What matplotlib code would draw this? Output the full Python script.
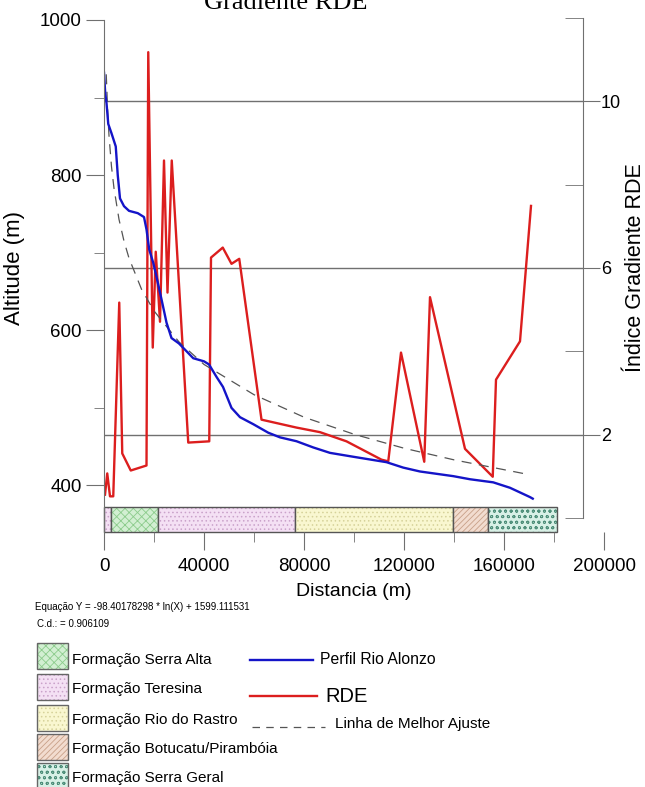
import matplotlib
matplotlib.use('Agg')
import matplotlib.pyplot as plt
from matplotlib.patches import Rectangle
from matplotlib.ticker import MultipleLocator

plt.rcParams['font.family'] = ['Liberation Sans', 'DejaVu Sans']
plt.rcParams['hatch.linewidth'] = 0.6

# perfil do rio (distancia m, altitude m)
perfil_x = [0, 500, 1000, 1700, 3000, 4700, 5500, 6400, 8000, 10000, 13500, 16000,
            17000, 18100, 19700, 21000, 23000, 25000, 27000, 30000, 32400, 35700,
            40000, 42000, 45000, 47600, 51000, 54400, 59700, 65700, 70400, 77000,
            83700, 90400, 99700, 113000, 119700, 126400, 139700, 146400, 155700,
            162400, 166400, 170400, 171500]
perfil_y = [932, 905, 893, 866, 854, 837, 800, 770, 760, 754, 751, 746,
            730, 704, 687, 669, 640, 610, 590, 583, 575, 564,
            560, 556, 540, 527, 500, 488, 479, 468, 462, 457,
            449, 442, 437, 430, 423, 418, 412, 408, 404,
            397, 391, 385, 383]

# indice RDE
rde_x = [400, 1300, 2400, 3700, 6100, 7300, 10700, 17000, 17700, 19500, 20700,
         22400, 24000, 25400, 27100, 33700, 42100, 42800, 47500, 51000, 54100,
         63000, 77000, 86400, 97000, 111000, 113700, 118800, 128100, 130400,
         144400, 155500, 156800, 166400, 170800]
rde_y = [0.56, 1.07, 0.52, 0.52, 5.17, 1.55, 1.14, 1.26, 11.18, 4.09, 6.39,
         4.71, 8.58, 5.41, 8.58, 1.81, 1.84, 6.25, 6.49, 6.10, 6.22,
         2.36, 2.17, 2.06, 1.84, 1.40, 1.36, 3.97, 1.35, 5.30,
         1.66, 0.99, 3.32, 4.24, 7.49]

# linha de melhor ajuste
ajuste_x = [900, 1500, 2000, 3000, 4000, 6000, 8000, 10000, 15000, 20000, 30000,
            40000, 60000, 80000, 100000, 120000, 140000, 170000]
ajuste_y = [930, 880, 851, 811, 783, 743, 715, 693, 653, 625, 585,
            556, 517, 488, 466, 448, 433, 414]

# formacoes ao longo do perfil
form_nomes = ['Formação Teresina', 'Formação Serra Alta', 'Formação Teresina',
              'Formação Rio do Rastro', 'Formação Botucatu/Pirambóia',
              'Formação Serra Geral']
form_ini = [0, 2800, 21500, 76400, 139700, 153700]
form_fim = [2800, 21500, 76400, 139700, 153700, 181000]

estilos = {
    'Formação Serra Alta': ('#d2efd2', '#8ccc8c', 'xxxx'),
    'Formação Teresina': ('#f4e0f4', '#caa2ca', '....'),
    'Formação Rio do Rastro': ('#f9f7d0', '#d6d29a', '....'),
    'Formação Botucatu/Pirambóia': ('#f2dccf', '#c8a088', '//////'),
    'Formação Serra Geral': ('#d8f0e6', '#4f8f7a', 'ooo'),
}
legenda_form = ['Formação Serra Alta', 'Formação Teresina', 'Formação Rio do Rastro',
                'Formação Botucatu/Pirambóia', 'Formação Serra Geral']

W, H = 645, 787
fig = plt.figure(figsize=(6.45, 7.87), dpi=100)
cinza = '#707070'
azul = '#1414c8'
verm = '#dc1e1e'

# eixo RDE (direita)
ax2 = fig.add_axes([104 / W, (H - 518) / H, 479 / W, 500 / H])
ax2.set_xlim(0, 191600)
ax2.set_ylim(0, 12)
for s in ['top', 'left', 'bottom']:
    ax2.spines[s].set_visible(False)
ax2.spines['right'].set_color(cinza)
ax2.xaxis.set_visible(False)
ax2.yaxis.tick_right()
ax2.yaxis.set_label_position('right')
ax2.set_yticks([2, 6, 10])
ax2.yaxis.set_minor_locator(MultipleLocator(4))
ax2.tick_params(axis='y', which='major', direction='out', length=12, color=cinza,
                labelsize=13, pad=1)
ax2.tick_params(axis='y', which='minor', direction='in', length=13, color=cinza)
ax2.yaxis.grid(True, which='major', color=cinza, linewidth=1)
ax2.plot(rde_x, rde_y, color=verm, linewidth=1.7)
ax2.set_ylabel('Índice Gradiente RDE', fontsize=15.5)
ax2.yaxis.set_label_coords((625 - 104) / 479, 0.5)

# eixo principal (altitude)
ax = fig.add_axes([104 / W, (H - 532) / H, 500 / W, 512 / H])
ax.set_zorder(2)
ax.patch.set_visible(False)
ax.set_xlim(0, 200000)
ax.set_ylim(340, 1000)
for s in ['top', 'right', 'bottom']:
    ax.spines[s].set_visible(False)
ax.spines['left'].set_color(cinza)
ax.set_xticks([0, 40000, 80000, 120000, 160000, 200000])
ax.xaxis.set_minor_locator(MultipleLocator(20000))
ax.set_yticks([400, 600, 800, 1000])
ax.yaxis.set_minor_locator(MultipleLocator(100))
ax.tick_params(which='major', direction='out', length=13, color=cinza, labelsize=13.5)
ax.tick_params(which='minor', direction='out', length=7, color=cinza)
ax.tick_params(axis='y', pad=3)
ax.tick_params(axis='x', pad=6)

ax.plot(ajuste_x, ajuste_y, color='#555555', linewidth=0.9, dashes=(8, 6))
ax.plot(perfil_x, perfil_y, color=azul, linewidth=1.7)

for nome, a, b in zip(form_nomes, form_ini, form_fim):
    face, hcor, hatch = estilos[nome]
    ax.add_patch(Rectangle((a, 340), b - a, 32, facecolor=face, edgecolor=hcor,
                           hatch=hatch, linewidth=0, clip_on=False))
    ax.add_patch(Rectangle((a, 340), b - a, 32, facecolor='none', edgecolor='#555555',
                           linewidth=1, clip_on=False))

ax.set_ylabel('Altitude (m)', fontsize=16)
ax.yaxis.set_label_coords((25 - 104) / 500, (532 - 268) / 512)
ax.set_xlabel('Distancia (m)', fontsize=14)
ax.xaxis.set_label_coords(0.5, (532 - 583) / 512)

# titulo cortado no topo
fig.text(286 / W, 1 - 9 / H, 'Gradiente RDE', ha='center', va='baseline', fontsize=19,
         family='Liberation Serif')

# area da legenda em pixels
lg = fig.add_axes([0, 0, 1, 1])
lg.set_xlim(0, W)
lg.set_ylim(H, 0)
lg.axis('off')
lg.set_zorder(3)

lg.text(35, 607, 'Equação Y = -98.40178298 * ln(X) + 1599.111531', fontsize=7,
        va='center', ha='left')
lg.text(37, 624, 'C.d.: = 0.906109', fontsize=7, va='center', ha='left')

topos = [643, 674, 705, 734, 763]
centros = [660, 689, 720, 749, 778]
for nome, t, c in zip(legenda_form, topos, centros):
    face, hcor, hatch = estilos[nome]
    lg.add_patch(Rectangle((37, t), 31, 26, facecolor=face, edgecolor=hcor,
                           hatch=hatch, linewidth=0))
    lg.add_patch(Rectangle((37, t), 31, 26, facecolor='none', edgecolor='#666666',
                           linewidth=1))
    lg.text(72, c, nome, fontsize=11, va='center', ha='left')

lg.plot([250, 313], [660, 660], color=azul, linewidth=1.7)
lg.text(320, 660, 'Perfil Rio Alonzo', fontsize=11.3, va='center', ha='left')
lg.plot([250, 317], [696, 696], color=verm, linewidth=1.7)
lg.text(325, 697, 'RDE', fontsize=14.5, va='center', ha='left')
lg.plot([252, 325], [727, 727], color='#555555', linewidth=0.9, dashes=(6, 5))
lg.text(335, 724, 'Linha de Melhor Ajuste', fontsize=11, va='center', ha='left')

fig.savefig('out.png', dpi=100)
